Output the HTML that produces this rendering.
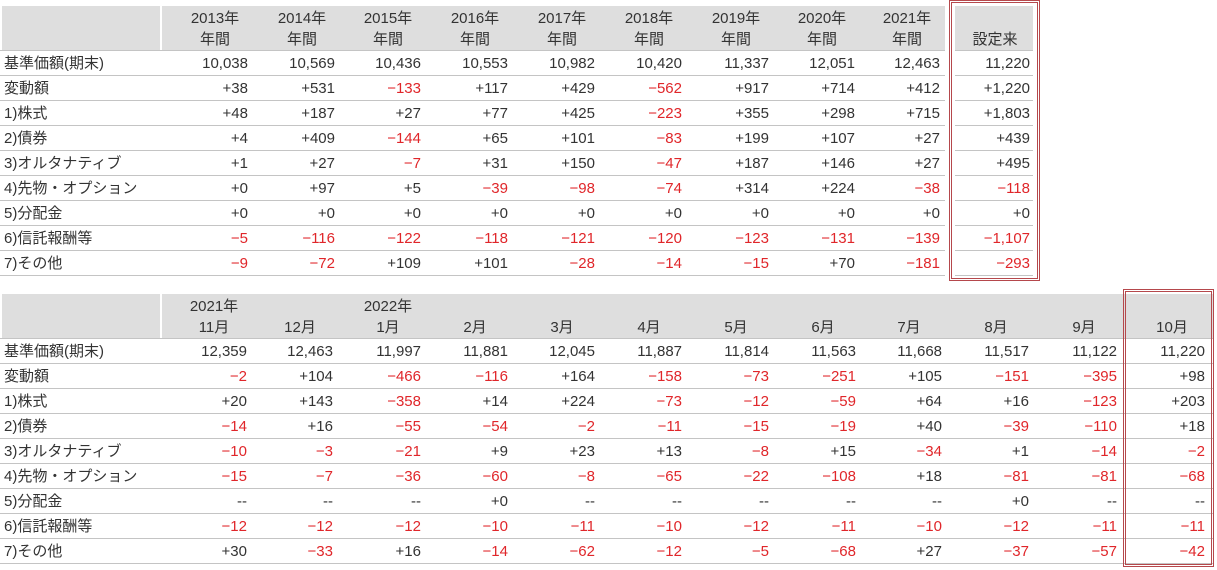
<!DOCTYPE html>
<html><head><meta charset="utf-8">
<style>
body{margin:0;width:1217px;height:570px;background:#fff;position:relative;overflow:hidden;font-family:"Liberation Sans","Noto Sans CJK JP",sans-serif;font-size:15px;color:#333}
.c{position:absolute;height:25px;line-height:25px;white-space:nowrap}
.r{text-align:right}.ctr{text-align:center}
.neg{color:#e0262a}
.hd{position:absolute;background:#dedede}
.ln{position:absolute;height:1px;background:#c4c4c4}
.box{position:absolute;border:3px double #b5484c;box-sizing:border-box}
</style></head><body>
<div id="root"></div>
<script>
const rowLabels=["基準価額(期末)","変動額","1)株式","2)債券","3)オルタナティブ","4)先物・オプション","5)分配金","6)信託報酬等","7)その他"];
const annualYears=["2013年","2014年","2015年","2016年","2017年","2018年","2019年","2020年","2021年"];
const annualValues=[
["10,038","10,569","10,436","10,553","10,982","10,420","11,337","12,051","12,463"],
["+38","+531","-133","+117","+429","-562","+917","+714","+412"],
["+48","+187","+27","+77","+425","-223","+355","+298","+715"],
["+4","+409","-144","+65","+101","-83","+199","+107","+27"],
["+1","+27","-7","+31","+150","-47","+187","+146","+27"],
["+0","+97","+5","-39","-98","-74","+314","+224","-38"],
["+0","+0","+0","+0","+0","+0","+0","+0","+0"],
["-5","-116","-122","-118","-121","-120","-123","-131","-139"],
["-9","-72","+109","+101","-28","-14","-15","+70","-181"]];
const sinceInception=["11,220","+1,220","+1,803","+439","+495","-118","+0","-1,107","-293"];
const monthTop=["2021年","","2022年","","","","","","","","",""];
const monthLabels=["11月","12月","1月","2月","3月","4月","5月","6月","7月","8月","9月","10月"];
const monthValues=[
["12,359","12,463","11,997","11,881","12,045","11,887","11,814","11,563","11,668","11,517","11,122","11,220"],
["-2","+104","-466","-116","+164","-158","-73","-251","+105","-151","-395","+98"],
["+20","+143","-358","+14","+224","-73","-12","-59","+64","+16","-123","+203"],
["-14","+16","-55","-54","-2","-11","-15","-19","+40","-39","-110","+18"],
["-10","-3","-21","+9","+23","+13","-8","+15","-34","+1","-14","-2"],
["-15","-7","-36","-60","-8","-65","-22","-108","+18","-81","-81","-68"],
["--","--","--","+0","--","--","--","--","--","+0","--","--"],
["-12","-12","-12","-10","-11","-10","-12","-11","-10","-12","-11","-11"],
["+30","-33","+16","-14","-62","-12","-5","-68","+27","-37","-57","-42"]];
const root=document.getElementById('root');
function add(cls,x,y,w,h,txt){const d=document.createElement('div');d.className=cls;d.style.left=x+'px';d.style.top=y+'px';if(w!=null)d.style.width=w+'px';if(h!=null)d.style.height=h+'px';if(txt!=null)d.textContent=txt;root.appendChild(d);return d;}
function fmt(v){return v.startsWith('-')&&v!=='--'?'−'+v.slice(1):v;}
function table(y0,rights,colW,headTop,headBot,vals,extra){
 const hy=y0,hh=44,by=y0+45;
 let e=add('hd',2,hy,158,hh);
 
 
 const lastR=extra?extra.tableEnd:rights[rights.length-1]+4;
 e=add('hd',162,hy,lastR-162,hh);
 
 
 rights.forEach((r,i)=>{
  const x=r-colW;
  e=add('c ctr',x+10,hy,colW,null,headTop[i]);
  
  
  e=add('c ctr',x+10,hy+21,colW,null,headBot[i]);
  
  
 });
 e=add('ln',0,hy+hh,lastR,1);
 
 
 rowLabels.forEach((lab,ri)=>{
  const y=by+ri*25;
  e=add('c',4,y,null,null,lab);
  
  
  vals[ri].forEach((v,ci)=>{
   e=add('c r'+(v.startsWith('-')&&v!=='--'?' neg':''),rights[ci]-colW,y,colW,null,fmt(v));
   
   
  });
  e=add('ln',0,y+24,lastR,1);
  
  
 });
}
// top table
table(6,[248,335,421,508,595,682,769,855,940],86,annualYears,annualYears.map(()=>"年間"),vals=annualValues,{tableEnd:945});
// since inception column
let e=add('hd',955,6,78,44);


e=add('c ctr',955,27,80,null,'設定来');


e=add('ln',955,50,78,1);


sinceInception.forEach((v,ri)=>{
 const y=51+ri*25;
 e=add('c r'+(v.startsWith('-')?' neg':''),950,y,80,null,fmt(v));
 
 
 e=add('ln',955,y+24,78,1);
 
 
});
e=add('box',949,0,91,281);


// bottom table
table(294,[247,333,421,508,595,682,769,856,942,1029,1117,1205],86,monthTop,monthLabels,monthValues,{tableEnd:1213});
e=add('box',1123,289,91,278);


</script>
</body></html>
